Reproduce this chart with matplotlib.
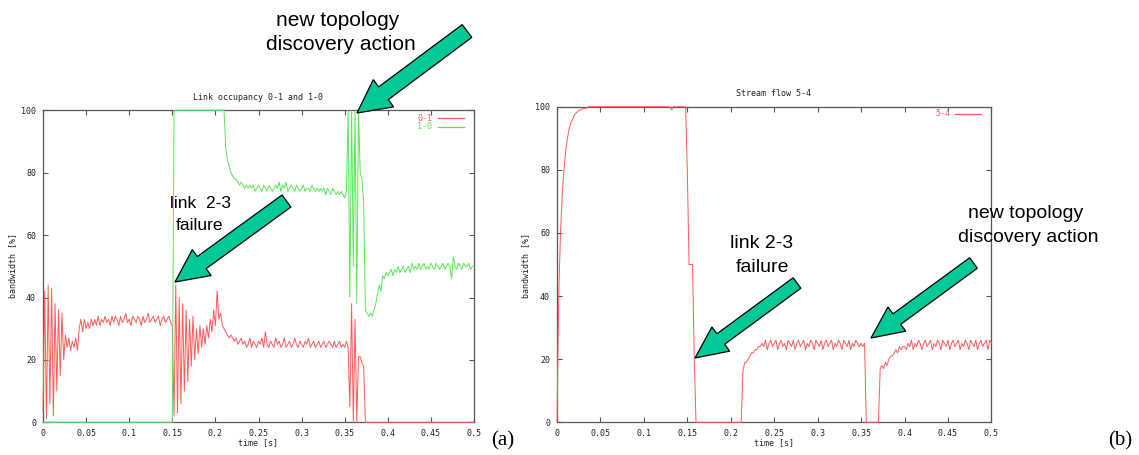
import numpy as np
import matplotlib
matplotlib.use("Agg")
import matplotlib.pyplot as plt
from matplotlib.patches import Polygon
from matplotlib.lines import Line2D

W, H = 1139, 455

# ---------------- data (sampled every 2 ms, 0 .. 0.5 s) ----------------
time_s = np.linspace(0.0, 0.5, 251)

link_0_1 = [
    4, 42, 1, 44, 6, 43, 2, 38, 10, 36, 15, 35, 20,
    28, 24, 27, 23, 26, 24, 27, 23,
    30, 33, 29, 33, 30, 32, 30, 33, 31, 33, 31, 34, 31, 33, 32, 34, 32, 33, 31, 34,
    32, 34, 33, 31, 34, 32, 33, 35, 32, 33, 31, 34, 33, 32, 34, 33, 31, 34, 32, 33,
    35, 32, 33, 34, 32, 33, 34, 31, 33, 34, 32, 33, 34, 32,
    31,
    2, 44, 3, 40, 6, 38, 10, 36, 13, 33, 18, 34, 20, 30, 22, 31, 24, 30, 25, 31,
    27, 33, 29, 36, 31,
    42, 33, 35, 31, 30, 29, 28, 27, 28, 27, 26, 27, 25, 26, 27, 25,
    26, 24, 25, 27, 24, 26, 25, 24, 26, 25,
    27, 24, 29, 25, 24, 26, 25, 24, 27, 25,
    26, 24, 25, 27, 24, 25, 26, 24, 25, 27,
    25, 24, 26, 25, 24, 26, 25, 27, 24, 25,
    26, 24, 25, 26, 24, 25, 26, 24, 25, 26,
    25, 24, 26, 24, 25, 26, 24, 25, 24, 26,
    24,
    5, 38, 0, 33, 0, 21, 21, 19, 18,
    0, 0, 0, 0, 0, 0, 0, 0, 0, 0, 0, 0, 0, 0, 0, 0,
    0, 0, 0, 0, 0, 0, 0, 0, 0, 0, 0, 0, 0, 0, 0, 0,
    0, 0, 0, 0, 0, 0, 0, 0, 0, 0, 0, 0, 0, 0, 0, 0,
    0, 0, 0, 0, 0, 0, 0, 0, 0, 0, 0, 0, 0, 0, 0, 0,
]

link_1_0 = [
    0, 0, 0, 0, 0, 0, 0, 0, 0, 0, 0, 0, 0, 0, 0, 0, 0, 0, 0,
    0, 0, 0, 0, 0, 0, 0, 0, 0, 0, 0, 0, 0, 0, 0, 0, 0, 0, 0,
    0, 0, 0, 0, 0, 0, 0, 0, 0, 0, 0, 0, 0, 0, 0, 0, 0, 0, 0,
    0, 0, 0, 0, 0, 0, 0, 0, 0, 0, 0, 0, 0, 0, 0, 0, 0, 0, 0,
    100, 100, 100, 100, 100, 100, 100, 100, 100, 100,
    100, 100, 100, 100, 100, 100, 100, 100, 100, 100,
    100, 100, 100, 100, 100, 100, 100, 100, 100, 100,
    88, 84, 82, 80, 79, 78, 78, 77, 76, 77, 76, 75, 76, 75, 76,
    75, 76, 74, 75, 76, 75, 74, 76, 75, 74,
    76, 75, 74, 75, 76, 75, 77, 74, 76, 75,
    77, 74, 75, 76, 75, 74, 76, 75, 74, 75,
    76, 74, 75, 75, 74, 76, 75, 74, 75, 74,
    75, 74, 75, 73, 75, 74, 73, 75, 74, 73,
    74, 73, 74, 73, 72, 74,
    100, 40, 100, 50, 100, 38, 100, 80, 78, 70,
    36, 35, 34, 35, 34, 36, 38, 41, 44, 42, 47, 46, 48, 47,
    48, 49, 47, 49, 48, 50, 48, 49, 50, 48,
    49, 50, 48, 51, 49, 50, 49, 51, 49, 50,
    51, 49, 50, 49, 51, 50, 49, 51, 50, 49,
    50, 51, 49, 50, 51, 50, 46, 53, 50, 49,
    51, 50, 49, 51, 50, 50, 51, 49, 50, 50,
]

stream_5_4 = [
    0, 40, 60, 72, 80, 86, 90, 93, 95, 96, 97.5, 98, 98.5, 99, 99, 99.5, 99.5, 99.5, 100, 100,
    100, 100, 100, 100, 100, 100, 100, 100, 100, 100,
    100, 100, 100, 100, 100, 100, 100, 100, 100, 100,
    100, 100, 100, 100, 100, 100, 100, 100, 100, 100,
    100, 100, 100, 100, 100, 100, 100, 100, 100, 100,
    100, 100, 100, 100, 100, 100, 99, 100, 100, 100,
    100, 100, 100, 100, 100,
    80, 50, 50, 50, 20,
    0, 0, 0, 0, 0, 0, 0, 0, 0, 0, 0, 0, 0, 0,
    0, 0, 0, 0, 0, 0, 0, 0, 0, 0, 0, 0, 0,
    16, 19, 19, 20, 21, 22, 22, 23, 23, 24, 24,
    25, 24, 26, 23, 25, 26, 24, 25, 26, 23,
    25, 26, 24, 25, 23, 26, 25, 24, 26, 23,
    25, 26, 24, 25, 26, 23, 25, 24, 26, 25,
    23, 26, 25, 24, 26, 23, 25, 26, 24, 25,
    26, 23, 25, 24, 26, 25, 23, 26, 25, 24,
    26, 23, 25, 24, 26, 25, 24, 25, 24, 25,
    0, 0, 0, 0, 0, 0, 0, 0,
    17, 18, 17, 19, 18, 20, 21, 21, 22, 23, 22, 24, 23, 24, 24,
    23, 25, 24, 26, 23, 25, 24, 26, 25, 23,
    25, 26, 24, 25, 26, 23, 25, 24, 26, 25,
    23, 26, 25, 24, 26, 23, 25, 26, 24, 25,
    26, 23, 25, 24, 26, 25, 23, 26, 25, 24,
    26, 23, 25, 26, 24, 25, 26, 23, 26, 25,
]

assert len(link_0_1) == 251, len(link_0_1)
assert len(link_1_0) == 251, len(link_1_0)
assert len(stream_5_4) == 251, len(stream_5_4)

x_ticks = [0, 0.05, 0.1, 0.15, 0.2, 0.25, 0.3, 0.35, 0.4, 0.45, 0.5]
x_tick_labels = ["0", "0.05", "0.1", "0.15", "0.2", "0.25", "0.3", "0.35", "0.4", "0.45", "0.5"]
y_ticks = [0, 20, 40, 60, 80, 100]
y_tick_labels = ["0", "20", "40", "60", "80", "100"]

RED = "#ff5a5a"
GREEN = "#5ae65a"
ARROW = "#00c896"
MONO = "DejaVu Sans Mono"
SANS = "Liberation Sans"
SERIF = "Liberation Serif"

fig = plt.figure(figsize=(W / 100, H / 100), dpi=100)
fig.patch.set_facecolor("white")


def px(x, y):
    return x / W, 1 - y / H


def make_axes(l, t, r, b):
    ax = fig.add_axes([l / W, 1 - b / H, (r - l) / W, (b - t) / H])
    ax.set_xlim(0, 0.5)
    ax.set_ylim(0, 100)
    ax.set_xticks(x_ticks)
    ax.set_xticklabels(x_tick_labels, fontsize=6, family=MONO, color="#222222")
    ax.set_yticks(y_ticks)
    ax.set_yticklabels(y_tick_labels, fontsize=6, family=MONO, color="#222222")
    ax.tick_params(direction="in", length=3.5, width=0.8, top=True, right=True,
                   color="#555555", pad=5)
    for s in ax.spines.values():
        s.set_color("#555555")
        s.set_linewidth(0.9)
    return ax


# ---------------- left panel ----------------
axL = make_axes(43, 110.3, 474, 422.3)
axL.plot(time_s, link_0_1, color=RED, lw=0.7, zorder=3, clip_on=False)
axL.plot(time_s, link_1_0, color=GREEN, lw=0.7, zorder=3, clip_on=False)

fig.text(*px(258, 97.5), "Link occupancy 0-1 and 1-0", ha="center", va="center",
         fontsize=6, family=MONO, color="#222222")
fig.text(*px(13, 266), "bandwidth [%]", ha="center", va="center", rotation=90,
         fontsize=6, family=MONO, color="#222222")
fig.text(*px(258, 443), "time [s]", ha="center", va="center",
         fontsize=6, family=MONO, color="#222222")

# legend (left)
fig.text(*px(432, 118.3), "0-1", ha="right", va="center", fontsize=6, family=MONO, color=RED)
fig.text(*px(432, 126.7), "1-0", ha="right", va="center", fontsize=6, family=MONO, color=GREEN)
fig.add_artist(Line2D([438 / W, 464 / W], [1 - 118.3 / H] * 2, color=RED, lw=0.9))
fig.add_artist(Line2D([438 / W, 464 / W], [1 - 126.7 / H] * 2, color=GREEN, lw=0.9))

# ---------------- right panel ----------------
axR = make_axes(557, 106.7, 991.4, 422.3)
axR.plot(time_s, stream_5_4, color=RED, lw=0.7, zorder=3, clip_on=False)

fig.text(*px(774, 94), "Stream flow 5-4", ha="center", va="center",
         fontsize=6, family=MONO, color="#222222")
fig.text(*px(526, 265), "bandwidth [%]", ha="center", va="center", rotation=90,
         fontsize=6, family=MONO, color="#222222")
fig.text(*px(774, 443), "time [s]", ha="center", va="center",
         fontsize=6, family=MONO, color="#222222")
fig.text(*px(950, 114), "5-4", ha="right", va="center", fontsize=6, family=MONO, color=RED)
fig.add_artist(Line2D([955 / W, 981 / W], [1 - 114 / H] * 2, color=RED, lw=0.9))


# ---------------- annotation arrows ----------------
def block_arrow(tail, tip, w, hw, hl):
    T = np.array(tail, float)
    P = np.array(tip, float)
    d = (P - T) / np.linalg.norm(P - T)
    n = np.array([-d[1], d[0]])
    B = P - d * hl
    pts = [T + n * w, B + n * w, B + n * hw, P, B - n * hw, B - n * w, T - n * w]
    pts = [px(p[0], p[1]) for p in pts]
    poly = Polygon(pts, closed=True, facecolor=ARROW, edgecolor="black", lw=0.9,
                   transform=fig.transFigure, zorder=10)
    fig.add_artist(poly)


block_arrow((467, 31), (357, 113), 8, 17, 33)
block_arrow((286.5, 201), (175, 282), 7.5, 16, 33)
block_arrow((797, 283), (695, 358), 6.5, 15, 32)
block_arrow((973.5, 263), (871, 338), 6.5, 15, 32)

# annotation texts
fig.text(*px(338, 20), "new topology", ha="center", va="center", fontsize=15, family=SANS)
fig.text(*px(341, 45), "discovery action", ha="center", va="center", fontsize=15, family=SANS)
fig.text(*px(201, 204), "link  2-3", ha="center", va="center", fontsize=12.5, family=SANS)
fig.text(*px(200, 226), "failure", ha="center", va="center", fontsize=12.5, family=SANS)

fig.text(*px(762, 244), "link 2-3", ha="center", va="center", fontsize=14, family=SANS)
fig.text(*px(762, 267), "failure", ha="center", va="center", fontsize=14, family=SANS)
fig.text(*px(1026, 213), "new topology", ha="center", va="center", fontsize=14, family=SANS)
fig.text(*px(1028, 237), "discovery action", ha="center", va="center", fontsize=14, family=SANS)

fig.text(*px(503, 441), "(a)", ha="center", va="center", fontsize=15, family=SERIF)
fig.text(*px(1120, 441), "(b)", ha="center", va="center", fontsize=15, family=SERIF)

fig.savefig("out.png", dpi=100, facecolor="white")
